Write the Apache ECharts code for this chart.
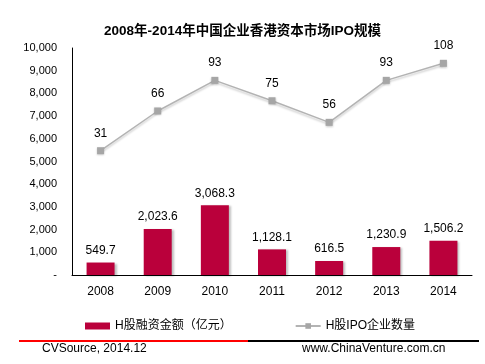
<!DOCTYPE html>
<html><head><meta charset="utf-8">
<script src="https://cdn.jsdelivr.net/npm/echarts@6/dist/echarts.min.js"></script>
<style>html,body{margin:0;padding:0;background:#fff}#c{width:485px;height:364px}</style>
</head><body><div id="c"></div>
<script>
const categories = ['2008','2009','2010','2011','2012','2013','2014'];
const fundValues = [549.7, 2023.6, 3068.3, 1128.1, 616.5, 1230.9, 1506.2];
const ipoCounts = [31, 66, 93, 75, 56, 93, 108];
const yTicks = [0,1000,2000,3000,4000,5000,6000,7000,8000,9000,10000];
const titleText = '2008年-2014年中国企业香港资本市场IPO规模';
const seriesNames = ['H股融资金额（亿元）', 'H股IPO企业数量'];
const sourceText = 'CVSource, 2014.12';
const siteText = 'www.ChinaVenture.com.cn';

const FONT = "Arial, 'Liberation Sans', 'Noto Sans CJK SC', sans-serif";
const chart = echarts.init(document.getElementById('c'), null, {renderer:'canvas'});
function fmt(v){ return v.toLocaleString('en-US',{minimumFractionDigits:1, maximumFractionDigits:1}); }
chart.setOption({
  animation:false,
  backgroundColor:'#fff',
  textStyle:{fontFamily:FONT},
  title:{text:titleText,left:'center',top:20,textStyle:{fontSize:13.5,fontWeight:'bold',color:'#000',fontFamily:FONT}},
  grid:{left:72,right:13,top:48,bottom:89,containLabel:false},
  legend:{
    bottom:27, left:80, itemGap:63, itemWidth:25, itemHeight:7,
    textStyle:{fontSize:12,color:'#000',fontFamily:FONT},
    data:[{name:seriesNames[0],icon:'rect'},{name:seriesNames[1]}]
  },
  xAxis:{type:'category',data:categories,
    axisLine:{lineStyle:{color:'#000',width:1}},axisTick:{show:false},
    axisLabel:{color:'#000',fontSize:12,margin:11,fontFamily:FONT}},
  yAxis:[{type:'value',min:yTicks[0],max:yTicks[yTicks.length-1],interval:1000,
    axisLine:{show:true,lineStyle:{color:'#000',width:1}},axisTick:{show:false},
    splitLine:{show:false},
    axisLabel:{color:'#000',fontSize:11,margin:15,fontFamily:FONT,
      formatter:v=> v===0?'-':v.toLocaleString('en-US')}},
    {type:'value',min:-78.5,max:121.5,show:false,splitLine:{show:false}}],
  series:[
    {name:seriesNames[0],type:'bar',data:fundValues,barWidth:28,
      itemStyle:{color:'#BA003B',shadowColor:'rgba(0,0,0,0.25)',shadowBlur:2,shadowOffsetX:2,shadowOffsetY:1},
      label:{show:true,position:'top',distance:6,color:'#000',fontSize:12,fontFamily:FONT,formatter:p=>fmt(p.value)}},
    {name:seriesNames[1],type:'line',yAxisIndex:1,data:ipoCounts,
      symbol:'rect',symbolSize:7,
      lineStyle:{color:'#B3B3B3',width:1.5,shadowColor:'rgba(0,0,0,0.2)',shadowBlur:2,shadowOffsetY:2},
      itemStyle:{color:'#A6A6A6',shadowColor:'rgba(0,0,0,0.2)',shadowBlur:2,shadowOffsetY:1},
      label:{show:true,position:'top',distance:8,color:'#000',fontSize:12,fontFamily:FONT}}
  ],
  graphic:[
    {type:'rect',shape:{x:19,y:340,width:229,height:2},style:{fill:'#FF0000'}},
    {type:'rect',shape:{x:248,y:340,width:231,height:2},style:{fill:'#000'}},
    {type:'text',left:42,top:343,style:{text:sourceText,fill:'#000',font:'12px '+FONT}},
    {type:'text',left:302,top:343,style:{text:siteText,fill:'#000',font:'12px '+FONT}}
  ]
});
</script></body></html>
